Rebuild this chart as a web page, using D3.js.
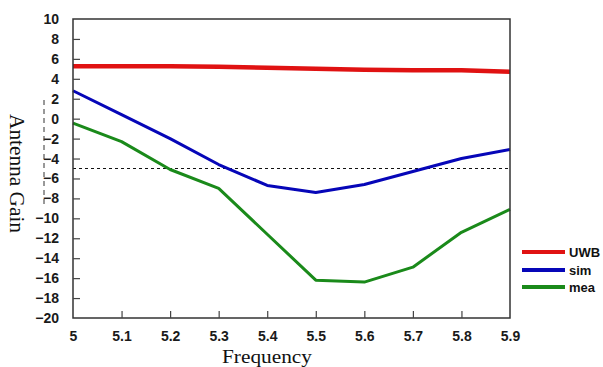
<!DOCTYPE html>
<html><head><meta charset="utf-8">
<script src="https://cdn.jsdelivr.net/npm/d3@7"></script>
<style>body{margin:0;background:#fff}svg{display:block}</style>
</head><body>
<svg id="c" width="603" height="367"></svg>
<script>
const freq = [5.0, 5.1, 5.2, 5.3, 5.4, 5.5, 5.6, 5.7, 5.8, 5.9];
const uwb  = [5.25, 5.25, 5.25, 5.2, 5.1, 5.0, 4.9, 4.85, 4.85, 4.7];
const sim  = [2.8, 0.4, -2.0, -4.6, -6.7, -7.4, -6.6, -5.3, -4.0, -3.1];
const mea  = [-0.45, -2.3, -5.1, -7.0, -11.6, -16.2, -16.4, -14.9, -11.4, -9.1];
const xTicks = [5.0, 5.1, 5.2, 5.3, 5.4, 5.5, 5.6, 5.7, 5.8, 5.9];
const yTicks = [10, 8, 6, 4, 2, 0, -2, -4, -6, -8, -10, -12, -14, -16, -18, -20];
const threshold = -5;
const seriesNames = ["UWB", "sim", "mea"];
const seriesColors = ["#e01212", "#0606b8", "#1a8a1a"];

const svg = d3.select("#c");
const L = 73, R = 510, T = 19, B = 318;
const x = d3.scaleLinear().domain([5.0, 5.9]).range([L, R]);
const y = d3.scaleLinear().domain([-20, 10]).range([B, T]);

// threshold dashed line
svg.append("line").attr("x1", L).attr("x2", R).attr("y1", y(threshold)).attr("y2", y(threshold))
  .attr("stroke", "#111").attr("stroke-width", 1).attr("stroke-dasharray", "3,3");

// series
const line = d3.line().x((d, i) => x(freq[i])).y(d => y(d));
const data = [uwb, sim, mea];
const widths = [4.5, 3, 3];
data.forEach((s, k) => {
  svg.append("path").datum(s).attr("d", line).attr("fill", "none")
    .attr("stroke", seriesColors[k]).attr("stroke-width", widths[k]).attr("stroke-linejoin", "round");
});

// frame
svg.append("rect").attr("x", L).attr("y", T).attr("width", R - L).attr("height", B - T)
  .attr("fill", "none").attr("stroke", "#333").attr("stroke-width", 1.5);

// axes
const ya = d3.axisLeft(y).tickValues(yTicks).tickSize(-7).tickPadding(14).tickFormat(d3.format("d"));
const gy = svg.append("g").attr("transform", `translate(${L},0)`).call(ya);
const xa = d3.axisBottom(x).tickValues(xTicks).tickSize(-7).tickPadding(13).tickFormat(d => d === 5 ? "5" : d3.format(".1f")(d));
const gx = svg.append("g").attr("transform", `translate(0,${B})`).call(xa);
[gy, gx].forEach(g => {
  g.select(".domain").remove();
  g.selectAll(".tick line").attr("stroke", "#444").attr("stroke-width", 1.2);
  g.selectAll(".tick text").attr("fill", "#1a1a1a").attr("font-family", "Liberation Sans, Arial, sans-serif")
    .attr("font-size", 14).attr("font-weight", "bold");
});
gx.selectAll(".tick line").filter((d, i) => i === 0 || i === xTicks.length - 1).remove();
gy.selectAll(".tick line").filter((d, i) => i === 0 || i === yTicks.length - 1).remove();

// axis labels
svg.append("text").attr("x", 222).attr("y", 363).attr("font-family", "Liberation Serif, Times New Roman, serif")
  .attr("font-size", 19).attr("textLength", 90).attr("lengthAdjust", "spacingAndGlyphs").attr("fill", "#111").text("Frequency");
svg.append("text").attr("transform", "translate(10,114) rotate(90)").attr("font-family", "Liberation Serif, Times New Roman, serif")
  .attr("font-size", 22).attr("textLength", 119).attr("lengthAdjust", "spacingAndGlyphs").attr("fill", "#111").text("Antenna Gain");
// clipped unit remnant
svg.append("line").attr("x1", 44).attr("x2", 44).attr("y1", 100).attr("y2", 205)
  .attr("stroke", "#333").attr("stroke-width", 1).attr("stroke-dasharray", "5,4");

// legend
const legY = [252, 270, 287];
seriesNames.forEach((n, k) => {
  svg.append("line").attr("x1", 522).attr("x2", 565).attr("y1", legY[k]).attr("y2", legY[k])
    .attr("stroke", seriesColors[k]).attr("stroke-width", 4);
  svg.append("text").attr("x", 569).attr("y", legY[k] + 5).attr("font-family", "Liberation Sans, Arial, sans-serif")
    .attr("font-size", 13).attr("font-weight", "bold").attr("fill", "#111").text(n);
});
</script>
</body></html>
